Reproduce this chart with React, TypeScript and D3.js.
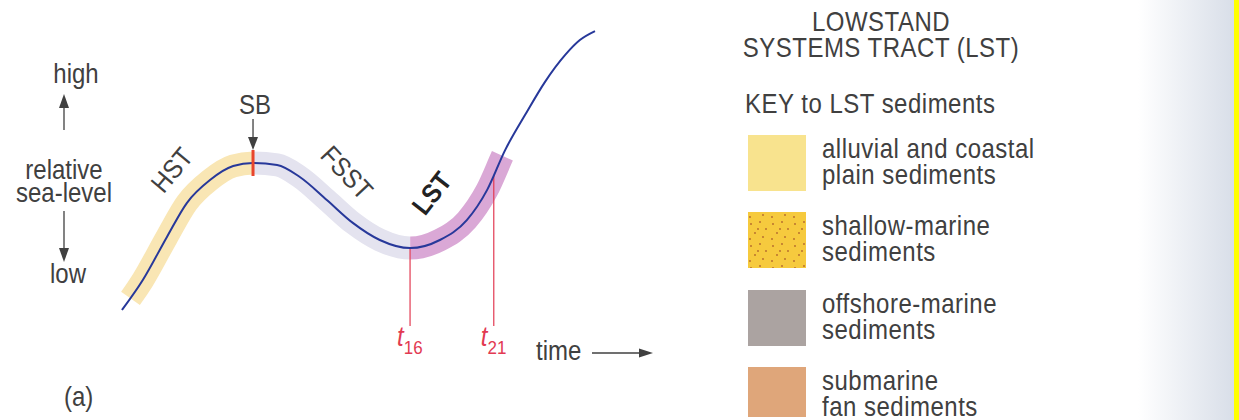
import React, { useEffect, useRef } from "react";
import * as d3 from "d3";

// relative sea-level curve (time 0-100, level 0-100)
const time = [0, 4.4, 9.5, 13.7, 18.6, 23.5, 27.7, 32.8, 37.6, 43.3, 48.8, 54.5, 60.9, 67.2, 72.9, 77.2, 81.0, 85.2, 89.4, 93.7, 96.8, 100];
const level = [0, 10.7, 26.1, 38.2, 46.4, 51.4, 52.5, 51.8, 47.5, 39.3, 31.1, 25, 22.1, 25, 32.1, 42.9, 57.1, 69.6, 81.4, 91.1, 96.4, 99.6];

// systems tracts along the curve
const tractNames = ["HST", "FSST", "LST"];
const tractStart = [1.8, 27.7, 60.9];
const tractEnd = [27.7, 60.9, 80.4];
const tractColors = ["#f9e6b4", "#e4e3ef", "#daa8d6"];

// sequence boundary and time markers
const sbTime = 27.7;
const markerSubs = ["16", "21"];
const markerTimes = [60.9, 78.6];

// legend
const titleLines = ["LOWSTAND", "SYSTEMS TRACT (LST)"];
const keyTitle = "KEY to LST sediments";
const legendLines = [
  ["alluvial and coastal", "plain sediments"],
  ["shallow-marine", "sediments"],
  ["offshore-marine", "sediments"],
  ["submarine", "fan sediments"],
];
const legendColors = ["#f8e38e", "#f6ca3e", "#aba3a1", "#dfa67a"];

export default function App() {
  const ref = useRef<SVGSVGElement | null>(null);

  useEffect(() => {
    const W = 1239, H = 420;
    const svg = d3.select(ref.current);
    svg.selectAll("*").remove();
    const font = "'Liberation Sans', Arial, Helvetica, sans-serif";
    const ink = "#404040";
    const SY = 1.12;

    const defs = svg.append("defs");
    const grad = defs.append("linearGradient").attr("id", "edge").attr("x1", "0").attr("x2", "1").attr("y1", "0").attr("y2", "0");
    grad.append("stop").attr("offset", "0").attr("stop-color", "#ffffff");
    grad.append("stop").attr("offset", "1").attr("stop-color", "#d8dee8");
    const pat = defs.append("pattern").attr("id", "dots").attr("patternUnits", "userSpaceOnUse").attr("width", 22).attr("height", 22);
    pat.append("rect").attr("width", 22).attr("height", 22).attr("fill", legendColors[1]);
    [[3, 4], [12, 2], [18, 9], [7, 13], [15, 17], [2, 19], [10, 9]].forEach(([a, b]) =>
      pat.append("circle").attr("cx", a).attr("cy", b).attr("r", 0.9).attr("fill", "#b4682c"));

    svg.append("rect").attr("width", W).attr("height", H).attr("fill", "#ffffff");
    svg.append("rect").attr("x", 1138).attr("y", 0).attr("width", 97).attr("height", H).attr("fill", "url(#edge)");
    svg.append("rect").attr("x", 1234).attr("y", 0).attr("width", 5).attr("height", H).attr("fill", "#ffff00");

    const x = d3.scaleLinear().domain([0, 100]).range([122, 595]);
    const y = d3.scaleLinear().domain([0, 100]).range([310, 30]);
    const pts: [number, number][] = time.map((t, i) => [t, level[i]]);
    const line = d3.line<[number, number]>().x(d => x(d[0])).y(d => y(d[1])).curve(d3.curveMonotoneX);
    const dPath = line(pts) as string;

    // hidden measuring path
    const meas = svg.append("path").attr("d", dPath).attr("fill", "none").attr("stroke", "none");
    const node = meas.node() as SVGPathElement;
    const total = node.getTotalLength();
    const lenAtX = (px: number) => {
      let lo = 0, hi = total;
      for (let k = 0; k < 40; k++) {
        const mid = (lo + hi) / 2;
        if (node.getPointAtLength(mid).x < px) lo = mid; else hi = mid;
      }
      return (lo + hi) / 2;
    };
    const yAtX = (px: number) => node.getPointAtLength(lenAtX(px)).y;

    // tract bands
    tractNames.forEach((_, i) => {
      const l0 = lenAtX(x(tractStart[i]));
      const l1 = lenAtX(x(tractEnd[i]));
      svg.append("path").attr("d", dPath).attr("fill", "none")
        .attr("stroke", tractColors[i]).attr("stroke-width", 23)
        .attr("stroke-dasharray", `0,${l0},${l1 - l0},${total + 10}`)
        .attr("stroke-linecap", "butt");
    });

    const text = (s: string, tx: number, ty: number, anchor = "middle", size = 24, extra: any = {}, rot = 0) => {
      const t = svg.append("text").attr("x", 0).attr("y", 0).attr("text-anchor", anchor)
        .attr("transform", `translate(${tx},${ty}) rotate(${rot}) scale(1,${SY})`)
        .attr("font-family", font).attr("font-size", size).attr("fill", ink).text(s);
      Object.entries(extra).forEach(([k, v]) => t.attr(k, v as any));
      return t;
    };

    // time markers
    markerTimes.forEach((t, i) => {
      const px = x(t);
      svg.append("line").attr("x1", px).attr("x2", px).attr("y1", yAtX(px)).attr("y2", 326)
        .attr("stroke", "#e23a52").attr("stroke-width", 1.2);
      const tx = svg.append("text").attr("x", 0).attr("y", 0).attr("fill", "#e23a52")
        .attr("transform", `translate(${px - 13},346) scale(1,${SY})`)
        .attr("font-family", font).attr("font-size", 24);
      tx.append("tspan").attr("font-style", "italic").text("t");
      tx.append("tspan").attr("font-size", 17).attr("dy", 7).text(markerSubs[i]);
    });

    // sea-level curve
    svg.append("path").attr("d", dPath).attr("fill", "none").attr("stroke", "#27389a").attr("stroke-width", 2);

    // SB tick and arrow
    const sbx = x(sbTime);
    const sby = yAtX(sbx);
    svg.append("line").attr("x1", sbx).attr("x2", sbx).attr("y1", sby - 13).attr("y2", sby + 13)
      .attr("stroke", "#e8452c").attr("stroke-width", 3);
    svg.append("line").attr("x1", sbx).attr("x2", sbx).attr("y1", 119).attr("y2", 140).attr("stroke", ink).attr("stroke-width", 1.3);
    svg.append("path").attr("d", `M${sbx},${sby - 13}L${sbx - 5},${sby - 26}L${sbx + 5},${sby - 26}Z`).attr("fill", ink);

    text("SB", sbx + 2, 114);
    // tract labels
    const labelPos: [number, number, number][] = [[179, 176, -50], [340, 179, 47], [439, 199, -52]];
    tractNames.forEach((n, i) => {
      const [lx, ly, r] = labelPos[i];
      text(n, lx, ly, "middle", 24, { "font-weight": i === 2 ? "bold" : "normal", fill: i === 2 ? "#222" : ink }, r);
    });

    // y-axis description
    text("high", 76, 83);
    svg.append("line").attr("x1", 64).attr("x2", 64).attr("y1", 130).attr("y2", 105).attr("stroke", ink).attr("stroke-width", 1.3);
    svg.append("path").attr("d", "M64,94L59,108L69,108Z").attr("fill", ink);
    text("relative", 64, 179);
    text("sea-level", 64, 202);
    svg.append("line").attr("x1", 64).attr("x2", 64).attr("y1", 211).attr("y2", 250).attr("stroke", ink).attr("stroke-width", 1.3);
    svg.append("path").attr("d", "M64,262L59,248L69,248Z").attr("fill", ink);
    text("low", 68, 283);
    text("(a)", 64, 406, "start");

    text("time", 536, 360, "start");
    svg.append("line").attr("x1", 592).attr("x2", 642).attr("y1", 353).attr("y2", 353).attr("stroke", ink).attr("stroke-width", 1.3);
    svg.append("path").attr("d", "M653,353L639,348.5L639,357.5Z").attr("fill", ink);

    // legend
    const ls = { "letter-spacing": "0.5px" };
    text(titleLines[0], 881, 31, "middle", 24, ls);
    text(titleLines[1], 881, 57, "middle", 24, ls);
    text(keyTitle, 745, 113, "start", 24, ls);
    const rowTop = [135, 212, 290, 367];
    legendLines.forEach((lines, i) => {
      svg.append("rect").attr("x", 748).attr("y", rowTop[i]).attr("width", 58).attr("height", i === 3 ? 50 : 56)
        .attr("fill", i === 1 ? "url(#dots)" : legendColors[i]);
      lines.forEach((s, j) => text(s, 822, rowTop[i] + 23 + j * 26, "start", 24, ls));
    });
  }, []);

  return (
    <svg ref={ref} width={1239} height={420} style={{ position: "absolute", left: 0, top: 0, display: "block" }} />
  );
}
